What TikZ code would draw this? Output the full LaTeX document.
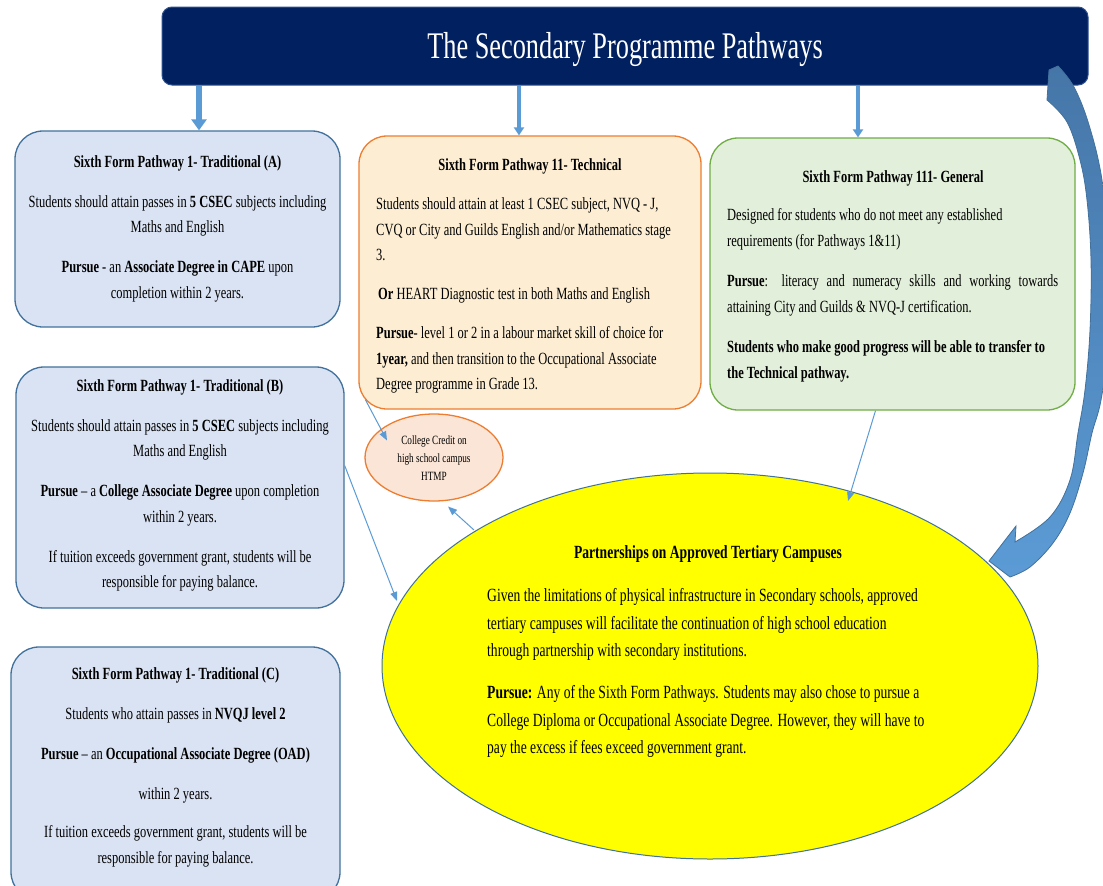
\documentclass[tikz,border=0pt]{standalone}
\usepackage{fontspec}
\setmainfont{Liberation Serif}[FakeStretch=0.73]
\newfontfamily\bannerfont{Liberation Serif}[FakeStretch=0.7]
\usetikzlibrary{arrows.meta,shapes.geometric,fit,calc}

\definecolor{navy}{HTML}{002060}
\definecolor{navyedge}{HTML}{2F528F}
\definecolor{blueedge}{HTML}{41719C}
\definecolor{bluefill}{HTML}{DAE3F3}
\definecolor{techfill}{HTML}{FDEED3}
\definecolor{orangeedge}{HTML}{ED7D31}
\definecolor{genfill}{HTML}{E2EFDA}
\definecolor{greenedge}{HTML}{70AD47}
\definecolor{peach}{HTML}{FBE5D6}
\definecolor{linkblue}{HTML}{5B9BD5}
\definecolor{steel}{HTML}{4676A8}
\definecolor{lemon}{HTML}{FFFF00}

\tikzset{
  banner/.style={fill=navy, draw=navyedge, line width=1pt, rounded corners=10pt, inner sep=0pt},
  bannertext/.style={font={\bannerfont\fontsize{37.6}{40}\selectfont}, text=white, inner sep=0pt},
  tradbox/.style={fill=bluefill, draw=blueedge, line width=1.3pt, rounded corners=28pt, inner sep=0pt},
  techbox/.style={fill=techfill, draw=orangeedge, line width=1.3pt, rounded corners=28pt, inner sep=0pt},
  genbox/.style={fill=genfill, draw=greenedge, line width=1.3pt, rounded corners=28pt, inner sep=0pt},
  body/.style={font={\fontsize{17.1}{25.5}\selectfont}, inner sep=0pt, text=black},
  bigbody/.style={font={\fontsize{18.6}{27.5}\selectfont}, inner sep=0pt, text=black},
  smallbody/.style={font={\fontsize{12.6}{18}\selectfont}, inner sep=0pt, text=black, align=center},
  fatdrop/.style={draw=linkblue, line width=6pt, -{Triangle[length=11pt,width=15pt]}},
  thindrop/.style={draw=linkblue, line width=3.5pt, -{Triangle[length=8pt,width=10pt]}},
  connector/.style={draw=linkblue, line width=1pt, -{Triangle[length=9pt,width=7pt]}}
}

\begin{document}
\begin{tikzpicture}[x=1pt,y=-1pt]
\useasboundingbox (0,0) rectangle (1103,886);
\fill[white] (0,0) rectangle (1103,886);

% banner
\node[banner, fit={(162,7) (1088,85)}] (title) {};
\node[bannertext] (titlelabel) at (625,49.5) {The Secondary Programme Pathways};

% pathway boxes
\node[tradbox, fit={(15,131) (340,327)}] (boxA) {};
\node[tradbox, fit={(16,367) (344,608)}] (boxB) {};
\node[tradbox, fit={(11,647) (340,900)}] (boxC) {};
\node[techbox, fit={(359,136) (701,409)}] (tech) {};
\node[genbox, fit={(710,138) (1075,410)}] (gen) {};

% arrows from the banner
\coordinate (dA) at (199,0);
\coordinate (dT) at (519,0);
\coordinate (dG) at (858,0);
\draw[fatdrop] (dA |- title.south) -- (dA |- boxA.north);
\draw[thindrop] (dT |- title.south) -- (dT |- tech.north);
\draw[thindrop] (dG |- title.south) -- (dG |- gen.north);

% ellipses
\node[ellipse, fill=lemon, draw=blueedge, line width=1pt, minimum width=656pt, minimum height=386pt, inner sep=0pt] (tert) at (710,666) {};
\node[ellipse, fill=peach, draw=orangeedge, line width=1.3pt, minimum width=138pt, minimum height=87pt, inner sep=0pt] (htmp) at (434,457.5) {};

% texts of the traditional pathways
\node[body, align=center] (textA) at (177.5,228.5) {\textbf{Sixth Form Pathway 1- Traditional (A)}\\[14.5pt]
Students should attain passes in \textbf{5 CSEC} subjects including\\
Maths and English\\[14.5pt]
\textbf{Pursue} - an \textbf{Associate Degree in CAPE} upon\\
completion within 2 years.};

\node[body, align=center] (textB) at (180,485.5) {\textbf{Sixth Form Pathway 1- Traditional (B)}\\[14.5pt]
Students should attain passes in \textbf{5 CSEC} subjects including\\
Maths and English\\[14.5pt]
\textbf{Pursue} -- a \textbf{College Associate Degree} upon completion\\
within 2 years.\\[14.5pt]
If tuition exceeds government grant, students will be\\
responsible for paying balance.};

\node[body, align=center] (textC) at (175.5,767.5) {\textbf{Sixth Form Pathway 1- Traditional (C)}\\[14.5pt]
Students who attain passes in \textbf{NVQJ level 2}\\[14.5pt]
\textbf{Pursue} -- an \textbf{Occupational Associate Degree (OAD)}\\[14.5pt]
within 2 years.\\[12.5pt]
If tuition exceeds government grant, students will be\\
responsible for paying balance.};

% technical pathway
\node[body] (techhead) at (530,166) {\textbf{Sixth Form Pathway 11- Technical}};
\node[body, align=left, anchor=west] (techtext) at (376,295.5) {Students should attain at least 1 CSEC subject, NVQ - J,\\
CVQ or City and Guilds English and/or Mathematics stage\\
3.\\[13.5pt]
\hspace*{2pt}\textbf{Or} HEART Diagnostic test in both Maths and English\\[13.5pt]
\textbf{Pursue}- level 1 or 2 in a labour market skill of choice for\\
\textbf{1year,} and then transition to the Occupational Associate\\
Degree programme in Grade 13.};

% general pathway
\node[body] (genhead) at (893,178) {\textbf{Sixth Form Pathway 111- General}};
\node[body, align=left, anchor=west] (gentext) at (727,295.5) {Designed for students who do not meet any established\\
requirements (for Pathways 1\&11)\\[15pt]
\makebox[331pt][s]{\textbf{Pursue}: literacy and numeracy skills and working towards}\\
attaining City and Guilds \& NVQ-J certification.\\[15pt]
\textbf{Students who make good progress will be able to transfer to}\\
\textbf{the Technical pathway.}};

% college credit ellipse
\node[smallbody] (htmptext) at (434,458) {College Credit on\\high school campus\\HTMP};

% tertiary partnerships
\node[bigbody] (terthead) at (708,554) {\textbf{Partnerships on Approved Tertiary Campuses}};
\node[bigbody, align=left, anchor=west] (terttext) at (487,673) {Given the limitations of physical infrastructure in Secondary schools, approved\\
tertiary campuses will facilitate the continuation of high school education\\
through partnership with secondary institutions.\\[14.5pt]
\textbf{Pursue:} Any of the Sixth Form Pathways. Students may also chose to pursue a\\
College Diploma or Occupational Associate Degree. However, they will have to\\
pay the excess if fees exceed government grant.};

% thin connectors
\draw[connector] ($(tech.south west)+(7,-10)$) -- ($(htmp.center)+(-47,-17)$);
\draw[connector] ($(tert.center)+(-236,-136)$) -- ($(htmp.center)+(14,49)$);
\draw[connector] ($(boxB.east)+(0,-22)$) -- ($(tert.center)+(-313,-65)$);
\draw[connector] ($(gen.south)+(-17,0)$) -- ($(tert.center)+(138,-165)$);

% curved arrow from the banner to the tertiary ellipse
\shadedraw[top color=steel, bottom color=linkblue, draw=blueedge, line width=0.8pt]
  (1047,100) -- (1049,70) -- (1058,66)
  -- plot[smooth, tension=0.6] coordinates {(1058,66) (1074,87) (1089,125) (1102,180) (1110,260) (1109,340) (1101,400) (1092,433) (1083,473) (1070,513) (1053,543) (1030,567) (1010,577)}
  -- (989,561) -- (1016,526)
  -- plot[smooth, tension=0.6] coordinates {(1015,542) (1050,517) (1070,480) (1078,433) (1085,390) (1090,330) (1091,260) (1087,200) (1080,160) (1067,122) (1047,100)}
  -- cycle;
\end{tikzpicture}
\end{document}
